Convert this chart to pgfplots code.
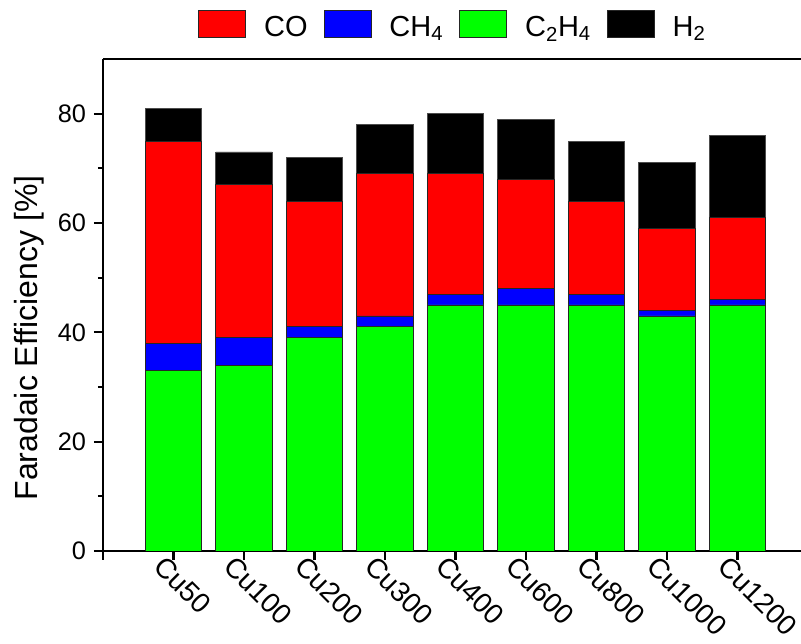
\documentclass[border=0pt]{standalone}
\usepackage{fontspec}
\setmainfont{Liberation Sans}
\usepackage{pgfplots}
\usepackage{pgfplotstable}
\pgfplotsset{compat=1.18}

\pgfplotstableread{
x C2H4 CH4 CO H2
0 33 5 37 6
1 34 5 28 6
2 39 2 23 8
3 41 2 26 9
4 45 2 22 11
5 45 3 20 11
6 45 2 17 11
7 43 1 15 12
8 45 1 15 15
}\datatable

\begin{document}
\begin{tikzpicture}
\begin{axis}[
  scale only axis,
  width=523.5pt, height=369pt,
  xmin=-1, xmax=8.9, ymin=0, ymax=90,
  enlargelimits=false,
  ybar stacked,
  bar width=0.8,
  axis x line=box,
  axis y line=left,
  axis line style={-, line width=1.9pt, black},
  xtick pos=left, ytick pos=left,
  tick align=outside,
  major tick length=6.75pt,
  minor tick length=3.75pt,
  every tick/.style={line width=1.7pt, black},
  xtick={-1,0,1,2,3,4,5,6,7,8},
  xticklabels={{},Cu50,Cu100,Cu200,Cu300,Cu400,Cu600,Cu800,Cu1000,Cu1200},
  ytick={0,20,40,60,80},
  minor ytick={10,30,50,70},
  /pgf/number format/assume math mode=true,
  yticklabel style={font=\fontsize{19}{22}\selectfont, xshift=-2.5pt},
  xticklabel style={font=\fontsize{21}{25}\selectfont, rotate=-45, anchor=north west, inner sep=2pt, xshift=-9pt, yshift=1pt},
  ylabel={Faradaic Efficiency [\%]},
  every axis y label/.style={at={(rel axis cs:-0.1275,0.433)}, rotate=90, anchor=north, inner sep=0pt, font=\fontsize{24}{28}\selectfont},
  legend columns=4,
  legend style={at={(rel axis cs:0.5,1)}, anchor=center, yshift=26pt, draw=none, fill=none,
    font=\fontsize{21.75}{25}\selectfont, nodes={inner sep=0pt},
    /tikz/every odd column/.style={column sep=13.5pt},
    /tikz/every even column/.style={column sep=12pt}},
  legend image code/.code={\draw[#1, line width=0.6pt] (0pt,-7.6pt) rectangle (35.25pt,12.6pt);},
]
\addlegendimage{fill=red, draw=black!85}
\addlegendentry{CO}
\addlegendimage{fill=blue, draw=black!85}
\addlegendentry{CH\textsubscript{4}}
\addlegendimage{fill=green, draw=black!85}
\addlegendentry{C\textsubscript{2}H\textsubscript{4}}
\addlegendimage{fill=black, draw=black!85}
\addlegendentry{H\textsubscript{2}}

\addplot[fill=green, draw=black!85, line width=0.6pt, forget plot] table[x=x, y=C2H4] {\datatable};
\addplot[fill=blue, draw=black!85, line width=0.6pt, forget plot] table[x=x, y=CH4] {\datatable};
\addplot[fill=red, draw=black!85, line width=0.6pt, forget plot] table[x=x, y=CO] {\datatable};
\addplot[fill=black, draw=black!70, line width=0.6pt, forget plot] table[x=x, y=H2] {\datatable};

\coordinate (sw) at (rel axis cs:0,0);
\coordinate (ne) at (rel axis cs:1,1);
\end{axis}
\pgfresetboundingbox
\path[use as bounding box] ([xshift=-77.25pt,yshift=-69.75pt]sw) rectangle ([yshift=44.25pt]ne);
\end{tikzpicture}
\end{document}
